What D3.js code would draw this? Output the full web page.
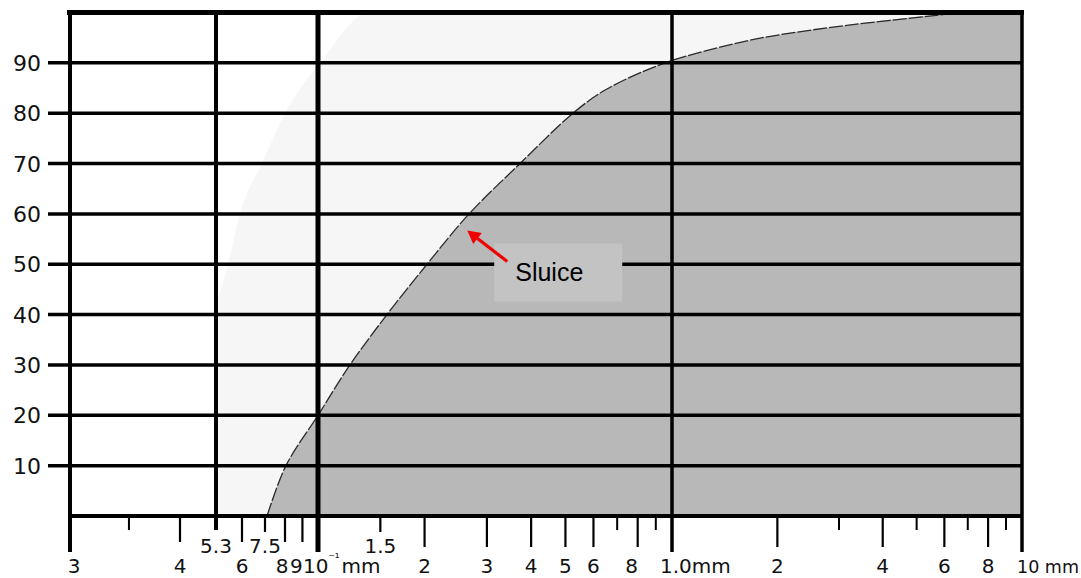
<!DOCTYPE html>
<html>
<head>
<meta charset="utf-8">
<script src="https://cdn.jsdelivr.net/npm/d3@7"></script>
<style>
  html, body { margin: 0; padding: 0; background: #fff; }
  svg { display: block; }
</style>
</head>
<body>
<svg id="chart" width="1081" height="578"></svg>
<script>
// Grading curve of the sluice sample: grain size (mm) vs. percent passing
const sluiceSize    = [0.0755, 0.0805, 0.1, 0.1231, 0.1566, 0.2032, 0.2671, 0.3721, 0.5253, 0.651, 0.9555, 1.371, 1.784, 2.884, 6.783, 10];
const sluicePassing = [0, 10, 20, 30, 40, 50, 60, 70, 80, 84.7, 90, 93.1, 94.9, 97.1, 100, 100];

// Fine-side boundary of the shaded grading band
const envelopeSize    = [0.053, 0.0561, 0.0594, 0.0728, 0.08, 0.1013, 0.14, 10];
const envelopePassing = [42, 50, 60, 70, 80, 90, 100, 100];

// Percent passing axis
const passingTicks = [10, 20, 30, 40, 50, 60, 70, 80, 90];

// Grain size axis
const gridSizes    = [0.053, 0.1, 1];
const majorSizes   = [0.04, 0.06, 0.08, 0.09, 0.2, 0.3, 0.4, 0.5, 0.6, 0.8, 2, 4, 6, 8];
const majorLabels  = ["4", "6", "8", "9", "2", "3", "4", "5", "6", "8", "2", "4", "6", "8"];
const minorSizes   = [0.035, 0.7, 0.9, 3, 5, 7, 9];
const markedSizes  = [0.053, 0.075, 0.15];
const markedLabels = ["5.3", "7.5", "1.5"];

// Annotation pointing at the sluice curve
const noteSize = 0.264;
const notePassing = 56.7;
const noteText = "Sluice";

const svg = d3.select("#chart");

// Hand-ruled logarithmic paper: piecewise log scale through the printed divisions
const x = d3.scaleLog()
  .domain([0.03, 0.04, 0.053, 0.06, 0.075, 0.08, 0.1, 1, 10])
  .range([70, 180, 216, 242, 265, 285, 318, 672, 1022]);
const y = d3.scaleLinear().domain([0, 100]).range([516, 12.5]);

const xMax = 10;
const INK = "#000";
const numFont = "'DejaVu Sans', sans-serif";
const smooth = d3.curveCatmullRom.alpha(0.5);

const sluice = sluiceSize.map((s, i) => ({ s, p: sluicePassing[i] }));
const envelope = envelopeSize.map((s, i) => ({ s, p: envelopePassing[i] }));

const areaBelow = curve => d3.area()
  .curve(curve)
  .x(d => x(d.s))
  .y0(y(0))
  .y1(d => Math.max(y(100), y(d.p)));

// light band between the fine boundary and the coarse side
svg.append("path")
  .datum(envelope)
  .attr("d", areaBelow(d3.curveMonotoneX))
  .attr("fill", "#f6f6f6");

// sluice sample area
svg.append("path")
  .datum(sluice)
  .attr("d", areaBelow(smooth))
  .attr("fill", "#b8b8b8");

svg.append("path")
  .datum(sluice.slice(0, -1))
  .attr("d", d3.line().curve(smooth).x(d => x(d.s)).y(d => y(d.p)))
  .attr("fill", "none")
  .attr("stroke", "#2a2a2a")
  .attr("stroke-width", 1.3)
  .attr("stroke-dasharray", "14 2");

// horizontal rulings with their left ticks
svg.append("g").selectAll("line")
  .data(passingTicks)
  .join("line")
  .attr("x1", 48).attr("x2", x(xMax))
  .attr("y1", d => y(d)).attr("y2", d => y(d))
  .attr("stroke", INK)
  .attr("stroke-width", 3.5);

svg.append("g").selectAll("text")
  .data(passingTicks)
  .join("text")
  .attr("x", 41)
  .attr("y", d => y(d) + 8)
  .attr("text-anchor", "end")
  .attr("font-family", numFont)
  .attr("font-size", 22)
  .attr("fill", "#111")
  .text(d => d);

// vertical rulings
const vWidths = { 0.053: 4, 0.1: 5, 1: 3.5 };
svg.append("g").selectAll("line")
  .data(gridSizes)
  .join("line")
  .attr("x1", d => x(d)).attr("x2", d => x(d))
  .attr("y1", y(100))
  .attr("y2", d => d === 0.053 ? 530 : 552)
  .attr("stroke", INK)
  .attr("stroke-width", d => vWidths[d]);

// frame
svg.append("line")
  .attr("x1", x(0.03) - 3).attr("x2", x(xMax) + 2)
  .attr("y1", y(100)).attr("y2", y(100))
  .attr("stroke", INK).attr("stroke-width", 5);
svg.append("line")
  .attr("x1", x(0.03)).attr("x2", x(xMax))
  .attr("y1", y(0)).attr("y2", y(0))
  .attr("stroke", INK).attr("stroke-width", 4);
svg.append("line")
  .attr("x1", x(0.03)).attr("x2", x(0.03))
  .attr("y1", y(100) - 2).attr("y2", 552)
  .attr("stroke", INK).attr("stroke-width", 4);
svg.append("line")
  .attr("x1", x(xMax)).attr("x2", x(xMax))
  .attr("y1", y(100) - 2).attr("y2", 552)
  .attr("stroke", INK).attr("stroke-width", 3.5);

// size-axis ticks
const ticks = svg.append("g").attr("stroke", INK);
ticks.selectAll(".major")
  .data(majorSizes)
  .join("line")
  .attr("x1", d => x(d)).attr("x2", d => x(d))
  .attr("y1", y(0)).attr("y2", d => d < 0.1 ? 542 : 547)
  .attr("stroke-width", 2.2);
ticks.selectAll(".minor")
  .data(minorSizes)
  .join("line")
  .attr("x1", d => x(d)).attr("x2", d => x(d))
  .attr("y1", y(0)).attr("y2", 530)
  .attr("stroke-width", 2);
ticks.selectAll(".marked")
  .data(markedSizes.slice(1))
  .join("line")
  .attr("x1", d => x(d)).attr("x2", d => x(d))
  .attr("y1", y(0)).attr("y2", 532)
  .attr("stroke-width", 2.2);

// size-axis labels (crowded labels nudged left of their ticks)
const nudge = { 0.08: -3, 0.09: -6, 0.8: -6 };
const labels = svg.append("g")
  .attr("font-family", numFont)
  .attr("font-size", 20)
  .attr("fill", "#111");

const baseLine = 573;
labels.selectAll(".maj")
  .data(majorSizes)
  .join("text")
  .attr("x", d => x(d) + (nudge[d] || 0))
  .attr("y", baseLine)
  .attr("text-anchor", "middle")
  .text((d, i) => majorLabels[i]);

labels.selectAll(".mark")
  .data(markedSizes)
  .join("text")
  .attr("x", d => x(d))
  .attr("y", 553)
  .attr("text-anchor", "middle")
  .text((d, i) => markedLabels[i]);

labels.append("text")
  .attr("x", x(0.03) + 4).attr("y", baseLine)
  .attr("text-anchor", "middle")
  .text("3");

const decLabel = labels.append("text")
  .attr("x", x(0.1) - 15).attr("y", baseLine);
decLabel.append("tspan").text("10");
decLabel.append("tspan").attr("font-size", 12).attr("dy", -11).text("⁻¹");
decLabel.append("tspan").attr("dy", 11).attr("dx", 2).text("mm");

labels.append("text")
  .attr("x", x(1) - 12).attr("y", baseLine)
  .text("1.0mm");

labels.append("text")
  .attr("x", x(xMax) - 5).attr("y", baseLine)
  .attr("font-size", 17.5)
  .text("10 mm");

// annotation
const tipX = x(noteSize), tipY = y(notePassing);
const note = svg.append("g");
note.append("rect")
  .attr("x", tipX + 27).attr("y", tipY + 13)
  .attr("width", 128).attr("height", 58)
  .attr("fill", "#c3c3c3");
note.append("text")
  .attr("x", tipX + 48).attr("y", tipY + 50)
  .attr("font-family", "'Liberation Sans', Arial, sans-serif")
  .attr("font-size", 25)
  .attr("fill", "#000")
  .text(noteText);

const tailX = tipX + 40, tailY = tipY + 31;
const ang = Math.atan2(tipY - tailY, tipX - tailX);
const headLen = 13, headHalf = 7;
const baseX = tipX - headLen * Math.cos(ang), baseY = tipY - headLen * Math.sin(ang);
note.append("line")
  .attr("x1", tailX).attr("y1", tailY)
  .attr("x2", baseX).attr("y2", baseY)
  .attr("stroke", "#f00000").attr("stroke-width", 3.2);
note.append("path")
  .attr("d", `M${tipX},${tipY}L${baseX + headHalf * Math.sin(ang)},${baseY - headHalf * Math.cos(ang)}L${baseX - headHalf * Math.sin(ang)},${baseY + headHalf * Math.cos(ang)}Z`)
  .attr("fill", "#f00000");
</script>
</body>
</html>
